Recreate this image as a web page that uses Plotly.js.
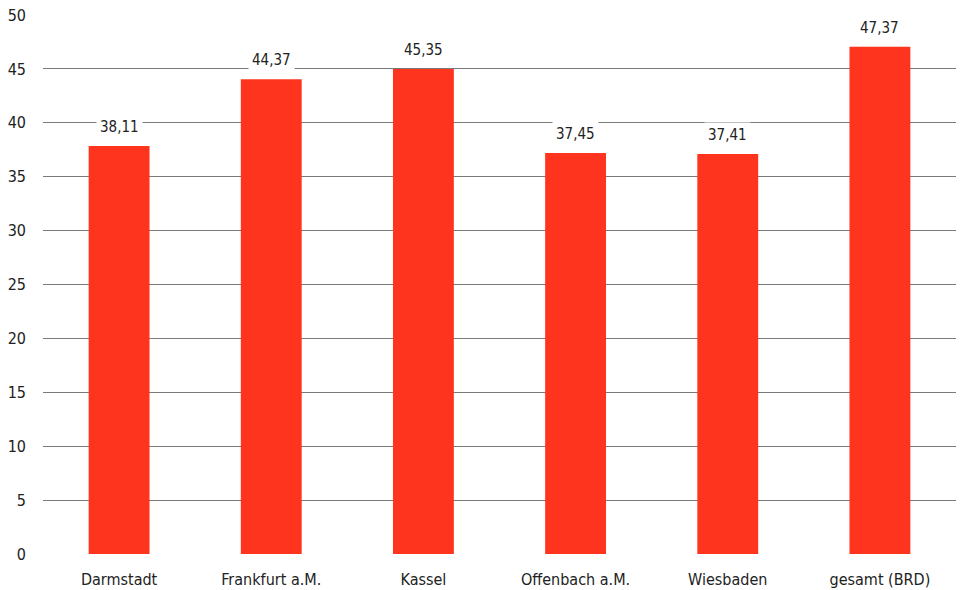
<!DOCTYPE html>
<html><head><meta charset="utf-8">
<script src="https://cdn.plot.ly/plotly-3.0.1.min.js"></script>
<style>html,body{margin:0;padding:0;background:#fff}#chart{width:961px;height:590px}</style>
</head><body><div id="chart"></div>
<script>
const categories = ["Darmstadt", "Frankfurt a.M.", "Kassel", "Offenbach a.M.", "Wiesbaden", "gesamt (BRD)"];
const labelValues = [38.11, 44.37, 45.35, 37.45, 37.41, 47.37];
const barHeights = [37.85, 44.05, 45.0, 37.2, 37.1, 47.05];
const yTicks = [0, 5, 10, 15, 20, 25, 30, 35, 40, 45, 50];

const fontFam = '"Liberation Sans Narrow", "DejaVu Sans Condensed", "Roboto", sans-serif';
const fmt = v => v.toFixed(2).replace('.', ',');

const trace = {
  type: 'bar', x: categories, y: barHeights,
  marker: {color: '#FF341E'}, width: 0.4, hoverinfo: 'none'
};
const annotations = categories.map((c, i) => ({
  x: c, y: barHeights[i], xref: 'x', yref: 'y',
  text: fmt(labelValues[i]), showarrow: false,
  yanchor: 'bottom', yshift: 6,
  bgcolor: '#ffffff', borderpad: 3,
  font: {family: fontFam, size: 15, color: '#222'}
}));
const layout = {
  width: 961, height: 590,
  margin: {l: 43, r: 5, t: 15, b: 36},
  paper_bgcolor: '#fff', plot_bgcolor: '#fff',
  showlegend: false,
  xaxis: {type: 'category', showgrid: false, zeroline: false, showline: false,
    ticks: '', ticklabelstandoff: 14, automargin: false,
    tickfont: {family: fontFam, size: 16, color: '#222'}},
  yaxis: {range: [0, 50], tickvals: yTicks, ticktext: yTicks.map(String),
    showgrid: true, gridcolor: '#7a7a7a', gridwidth: 1, automargin: false,
    zeroline: false, showline: false, ticks: '', ticklabelstandoff: 16,
    tickfont: {family: fontFam, size: 16, color: '#222'}},
  annotations: annotations
};
Plotly.newPlot('chart', [trace], layout, {displayModeBar: false, staticPlot: true});
</script></body></html>
